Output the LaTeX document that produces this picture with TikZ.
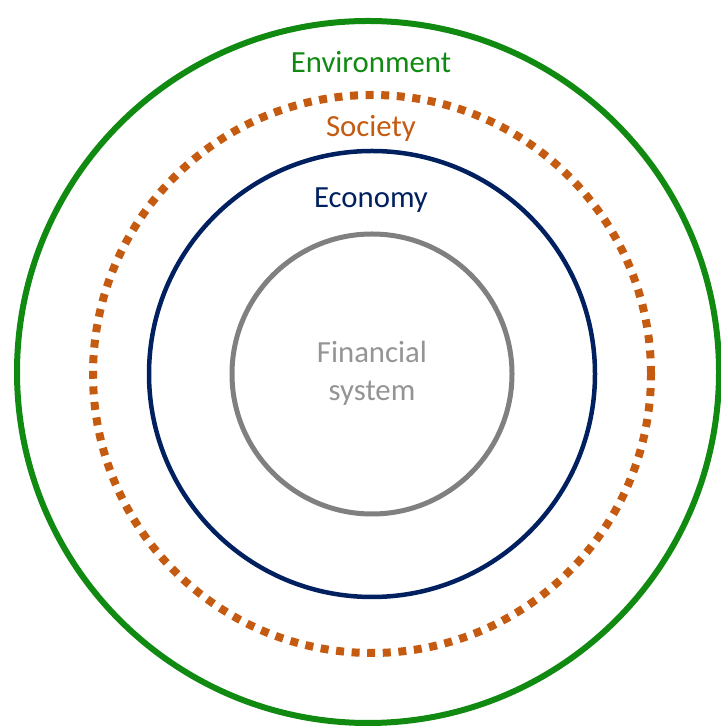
\documentclass[tikz,border=0pt]{standalone}
\usepackage{fontspec}
\setmainfont{Carlito}
\usepackage{xcolor}
\definecolor{env-color}{HTML}{108A10}
\definecolor{soc-color}{HTML}{C55A11}
\definecolor{eco-color}{HTML}{002060}
\definecolor{fin-color}{HTML}{808080}
\colorlet{fin-text}{black!42}
\tikzset{
  ring/.style = {line width=#1},
  ring/.default = {0.09cm},
  ring label/.style = {font=\fontsize{17.5}{21.6}\selectfont, align=center, inner sep=0pt},
}

\begin{document}
\begin{tikzpicture}[x=0.02cm, y=0.02cm]
\useasboundingbox (0,0) rectangle (720,726);

\coordinate (c) at (372,352);
\coordinate (c-env) at (368,354);

\draw[ring=0.12cm, env-color] (c-env) circle[radius=351];
\draw[ring=0.16cm, soc-color, dash pattern=on 0.16cm off 0.152cm] (c) circle[radius=279];
\draw[ring, eco-color] (c) circle[radius=223];
\draw[ring=0.1cm, fin-color] (c) circle[radius=140];

\node[ring label, env-color] (environment) at (371,664) {Environment};
\node[ring label, soc-color] (society) at (371,598) {Society};
\node[ring label, eco-color] (economy) at (371,526) {Economy};
\node[ring label, fin-text] (financial) at (372,353) {Financial\\system};

\end{tikzpicture}
\end{document}
